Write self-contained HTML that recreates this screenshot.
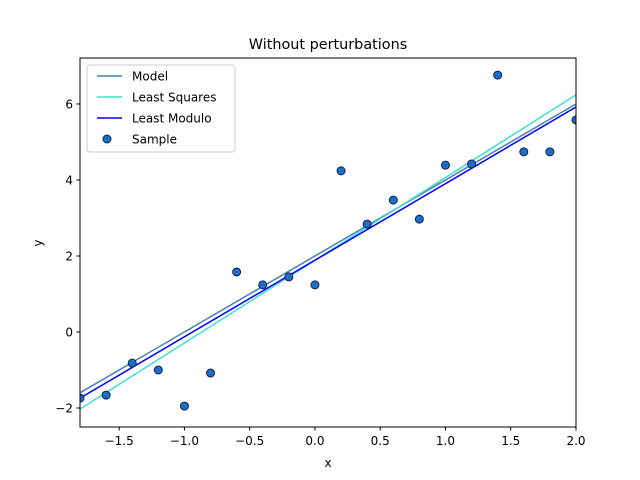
<!DOCTYPE html>
<html><head><meta charset="utf-8"><style>body{margin:0;background:#fff}svg{display:block;font-family:"DejaVu Sans","Liberation Sans",sans-serif}</style></head>
<body>
<svg width="640" height="480" viewBox="0 0 640 480">
<rect width="640" height="480" fill="#fff"/>
<text x="328" y="49" font-size="14.4" text-anchor="middle">Without perturbations</text>
<defs><clipPath id="c"><rect x="80" y="58" width="496" height="369"/></clipPath></defs>
<g id="lines" clip-path="url(#c)"></g>
<g id="pts" clip-path="url(#c)"></g>
<rect x="80" y="58" width="496" height="369" fill="none" stroke="#000" stroke-width="1"/>
<g id="ticks" font-size="12"></g>
<text x="328" y="467" font-size="12" text-anchor="middle">x</text>
<text x="42" y="243" font-size="12" text-anchor="middle" transform="rotate(-90 42 243)">y</text>
<g>
<rect x="87" y="65" width="148" height="87" rx="3" fill="#fff" fill-opacity="0.8" stroke="#ccc"/>
<line x1="97" y1="76" x2="122" y2="76" stroke="#4682b4" stroke-width="1.5"/>
<text x="132" y="80.5" font-size="12">Model</text>
<line x1="97" y1="97" x2="122" y2="97" stroke="#40e0d0" stroke-width="1.5"/>
<text x="132" y="101.5" font-size="12">Least Squares</text>
<line x1="97" y1="118" x2="122" y2="118" stroke="#0000ff" stroke-width="1.5"/>
<text x="132" y="122.5" font-size="12">Least Modulo</text>
<circle cx="107" cy="139" r="4" fill="#1f6fc0" stroke="#0a1f5c"/>
<text x="132" y="143.5" font-size="12">Sample</text>
</g>
</svg>
<script>
const sampleX = [-1.8,-1.6,-1.4,-1.2,-1.0,-0.8,-0.6,-0.4,-0.2,0.0,0.2,0.4,0.6,0.8,1.0,1.2,1.4,1.6,1.8,2.0];
const sampleY = [-1.74,-1.66,-0.82,-1.0,-1.95,-1.08,1.58,1.24,1.45,1.24,4.24,2.84,3.47,2.97,4.39,4.42,6.76,4.74,4.74,5.58];
const lineEndsX = [-1.8, 2.0];
const modelY = [-1.6, 6.0];
const leastSquaresY = [-2.03, 6.24];
const leastModuloY = [-1.74, 5.92];
const xTicks = [-1.5,-1.0,-0.5,0.0,0.5,1.0,1.5,2.0];
const xTickLabels = ["−1.5","−1.0","−0.5","0.0","0.5","1.0","1.5","2.0"];
const yTicks = [-2,0,2,4,6];
const yTickLabels = ["−2","0","2","4","6"];
const X0=-1.8,X1=2.0,Y0=-2.5,Y1=7.21;
const sx=v=>80+(v-X0)/(X1-X0)*496;
const sy=v=>427-(v-Y0)/(Y1-Y0)*369;
const NS="http://www.w3.org/2000/svg";
function mk(t,a,p){const e=document.createElementNS(NS,t);for(const k in a)e.setAttribute(k,a[k]);p.appendChild(e);return e;}
const L=document.getElementById('lines');
[[modelY,'#4682b4','model-line'],[leastSquaresY,'#40e0d0','least-squares-line'],[leastModuloY,'#0000ff','least-modulo-line']].forEach(([ys,c,n])=>{
 const e=mk('line',{x1:sx(lineEndsX[0]),y1:sy(ys[0]),x2:sx(lineEndsX[1]),y2:sy(ys[1]),stroke:c,'stroke-width':1.5},L);
 
 
});
const P=document.getElementById('pts');
sampleX.forEach((x,i)=>{
 const e=mk('circle',{cx:sx(x),cy:sy(sampleY[i]),r:4,fill:'#1f6fc0',stroke:'#0a1f5c'},P);
 
 
});
const T=document.getElementById('ticks');
xTicks.forEach((v,i)=>{
 const x=sx(v);
 mk('line',{x1:x,y1:427,x2:x,y2:430.5,stroke:'#000'},T);
 const t=mk('text',{x:x,y:445,'text-anchor':'middle'},T);t.textContent=xTickLabels[i];
 
 
});
yTicks.forEach((v,i)=>{
 const y=sy(v);
 mk('line',{x1:76.5,y1:y,x2:80,y2:y,stroke:'#000'},T);
 const t=mk('text',{x:73,y:y+4.5,'text-anchor':'end'},T);t.textContent=yTickLabels[i];
 
 
});
</script>
</body></html>
